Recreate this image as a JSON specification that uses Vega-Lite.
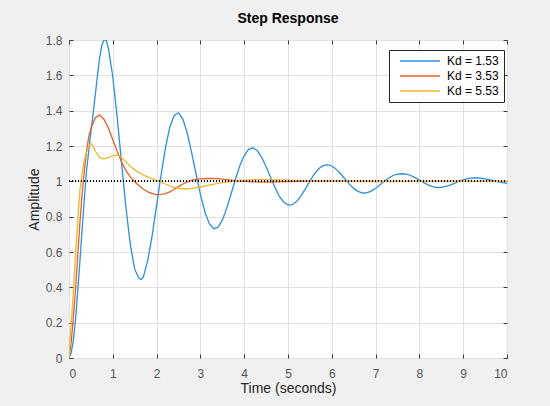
{
  "$schema": "https://vega.github.io/schema/vega-lite/v6.json",
  "width": 438,
  "height": 318,
  "autosize": {"type": "none"},
  "padding": {"left": 69, "top": 40, "right": 43, "bottom": 48},
  "background": "#f0f0f0",
  "title": {
    "text": "Step Response",
    "fontSize": 14,
    "fontWeight": "bold",
    "color": "#000000",
    "font": "Liberation Sans",
    "anchor": "middle",
    "frame": "group",
    "baseline": "alphabetic",
    "offset": -3
  },
  "config": {
    "font": "Liberation Sans",
    "view": {"fill": "#ffffff", "stroke": "#3a3a3a", "strokeWidth": 1},
    "axis": {
      "labelFont": "Liberation Sans",
      "labelFontSize": 12,
      "labelColor": "#555555",
      "titleFont": "Liberation Sans",
      "titleFontSize": 14,
      "titleFontWeight": "normal",
      "titleColor": "#262626",
      "gridColor": "#e0e0e0",
      "gridWidth": 1,
      "domain": false,
      "tickColor": "#3a3a3a",
      "tickSize": -4
    }
  },
  "data": {
    "values": [
      {"k": "Kd = 1.53", "t": 0, "y": 0},
      {"k": "Kd = 1.53", "t": 0.05, "y": 0.03},
      {"k": "Kd = 1.53", "t": 0.1, "y": 0.1},
      {"k": "Kd = 1.53", "t": 0.15, "y": 0.22},
      {"k": "Kd = 1.53", "t": 0.2, "y": 0.38},
      {"k": "Kd = 1.53", "t": 0.25, "y": 0.55},
      {"k": "Kd = 1.53", "t": 0.3, "y": 0.73},
      {"k": "Kd = 1.53", "t": 0.35, "y": 0.9},
      {"k": "Kd = 1.53", "t": 0.4, "y": 1.06},
      {"k": "Kd = 1.53", "t": 0.45, "y": 1.17},
      {"k": "Kd = 1.53", "t": 0.5, "y": 1.28},
      {"k": "Kd = 1.53", "t": 0.55, "y": 1.38},
      {"k": "Kd = 1.53", "t": 0.6, "y": 1.49},
      {"k": "Kd = 1.53", "t": 0.65, "y": 1.6},
      {"k": "Kd = 1.53", "t": 0.7, "y": 1.7},
      {"k": "Kd = 1.53", "t": 0.75, "y": 1.77},
      {"k": "Kd = 1.53", "t": 0.8, "y": 1.8},
      {"k": "Kd = 1.53", "t": 0.85, "y": 1.8},
      {"k": "Kd = 1.53", "t": 0.9, "y": 1.752},
      {"k": "Kd = 1.53", "t": 1.0, "y": 1.592},
      {"k": "Kd = 1.53", "t": 1.1, "y": 1.363},
      {"k": "Kd = 1.53", "t": 1.2, "y": 1.103},
      {"k": "Kd = 1.53", "t": 1.3, "y": 0.852},
      {"k": "Kd = 1.53", "t": 1.4, "y": 0.642},
      {"k": "Kd = 1.53", "t": 1.5, "y": 0.502},
      {"k": "Kd = 1.53", "t": 1.6, "y": 0.45},
      {"k": "Kd = 1.53", "t": 1.65, "y": 0.445},
      {"k": "Kd = 1.53", "t": 1.7, "y": 0.46},
      {"k": "Kd = 1.53", "t": 1.8, "y": 0.555},
      {"k": "Kd = 1.53", "t": 1.9, "y": 0.695},
      {"k": "Kd = 1.53", "t": 2.0, "y": 0.862},
      {"k": "Kd = 1.53", "t": 2.1, "y": 1.034},
      {"k": "Kd = 1.53", "t": 2.2, "y": 1.187},
      {"k": "Kd = 1.53", "t": 2.3, "y": 1.305},
      {"k": "Kd = 1.53", "t": 2.4, "y": 1.373},
      {"k": "Kd = 1.53", "t": 2.5, "y": 1.388},
      {"k": "Kd = 1.53", "t": 2.6, "y": 1.352},
      {"k": "Kd = 1.53", "t": 2.7, "y": 1.272},
      {"k": "Kd = 1.53", "t": 2.8, "y": 1.163},
      {"k": "Kd = 1.53", "t": 2.9, "y": 1.042},
      {"k": "Kd = 1.53", "t": 3.0, "y": 0.926},
      {"k": "Kd = 1.53", "t": 3.1, "y": 0.828},
      {"k": "Kd = 1.53", "t": 3.2, "y": 0.762},
      {"k": "Kd = 1.53", "t": 3.3, "y": 0.732},
      {"k": "Kd = 1.53", "t": 3.4, "y": 0.739},
      {"k": "Kd = 1.53", "t": 3.5, "y": 0.78},
      {"k": "Kd = 1.53", "t": 3.6, "y": 0.847},
      {"k": "Kd = 1.53", "t": 3.7, "y": 0.928},
      {"k": "Kd = 1.53", "t": 3.8, "y": 1.012},
      {"k": "Kd = 1.53", "t": 3.9, "y": 1.088},
      {"k": "Kd = 1.53", "t": 4.0, "y": 1.146},
      {"k": "Kd = 1.53", "t": 4.1, "y": 1.181},
      {"k": "Kd = 1.53", "t": 4.2, "y": 1.19},
      {"k": "Kd = 1.53", "t": 4.3, "y": 1.173},
      {"k": "Kd = 1.53", "t": 4.4, "y": 1.135},
      {"k": "Kd = 1.53", "t": 4.5, "y": 1.083},
      {"k": "Kd = 1.53", "t": 4.6, "y": 1.024},
      {"k": "Kd = 1.53", "t": 4.7, "y": 0.966},
      {"k": "Kd = 1.53", "t": 4.8, "y": 0.916},
      {"k": "Kd = 1.53", "t": 4.9, "y": 0.883},
      {"k": "Kd = 1.53", "t": 5.0, "y": 0.866},
      {"k": "Kd = 1.53", "t": 5.1, "y": 0.868},
      {"k": "Kd = 1.53", "t": 5.2, "y": 0.887},
      {"k": "Kd = 1.53", "t": 5.3, "y": 0.919},
      {"k": "Kd = 1.53", "t": 5.4, "y": 0.959},
      {"k": "Kd = 1.53", "t": 5.5, "y": 1.002},
      {"k": "Kd = 1.53", "t": 5.6, "y": 1.041},
      {"k": "Kd = 1.53", "t": 5.7, "y": 1.071},
      {"k": "Kd = 1.53", "t": 5.8, "y": 1.089},
      {"k": "Kd = 1.53", "t": 5.9, "y": 1.095},
      {"k": "Kd = 1.53", "t": 6.0, "y": 1.087},
      {"k": "Kd = 1.53", "t": 6.1, "y": 1.069},
      {"k": "Kd = 1.53", "t": 6.2, "y": 1.043},
      {"k": "Kd = 1.53", "t": 6.3, "y": 1.013},
      {"k": "Kd = 1.53", "t": 6.4, "y": 0.984},
      {"k": "Kd = 1.53", "t": 6.5, "y": 0.96},
      {"k": "Kd = 1.53", "t": 6.6, "y": 0.943},
      {"k": "Kd = 1.53", "t": 6.7, "y": 0.934},
      {"k": "Kd = 1.53", "t": 6.8, "y": 0.935},
      {"k": "Kd = 1.53", "t": 6.9, "y": 0.945},
      {"k": "Kd = 1.53", "t": 7.0, "y": 0.961},
      {"k": "Kd = 1.53", "t": 7.1, "y": 0.981},
      {"k": "Kd = 1.53", "t": 7.2, "y": 1.001},
      {"k": "Kd = 1.53", "t": 7.3, "y": 1.019},
      {"k": "Kd = 1.53", "t": 7.4, "y": 1.033},
      {"k": "Kd = 1.53", "t": 7.5, "y": 1.041},
      {"k": "Kd = 1.53", "t": 7.6, "y": 1.043},
      {"k": "Kd = 1.53", "t": 7.7, "y": 1.041},
      {"k": "Kd = 1.53", "t": 7.8, "y": 1.033},
      {"k": "Kd = 1.53", "t": 7.9, "y": 1.021},
      {"k": "Kd = 1.53", "t": 8.0, "y": 1.007},
      {"k": "Kd = 1.53", "t": 8.1, "y": 0.993},
      {"k": "Kd = 1.53", "t": 8.2, "y": 0.98},
      {"k": "Kd = 1.53", "t": 8.3, "y": 0.97},
      {"k": "Kd = 1.53", "t": 8.4, "y": 0.965},
      {"k": "Kd = 1.53", "t": 8.5, "y": 0.966},
      {"k": "Kd = 1.53", "t": 8.6, "y": 0.971},
      {"k": "Kd = 1.53", "t": 8.7, "y": 0.979},
      {"k": "Kd = 1.53", "t": 8.8, "y": 0.989},
      {"k": "Kd = 1.53", "t": 8.9, "y": 1.0},
      {"k": "Kd = 1.53", "t": 9.0, "y": 1.008},
      {"k": "Kd = 1.53", "t": 9.1, "y": 1.015},
      {"k": "Kd = 1.53", "t": 9.2, "y": 1.019},
      {"k": "Kd = 1.53", "t": 9.3, "y": 1.019},
      {"k": "Kd = 1.53", "t": 9.4, "y": 1.018},
      {"k": "Kd = 1.53", "t": 9.5, "y": 1.014},
      {"k": "Kd = 1.53", "t": 9.6, "y": 1.009},
      {"k": "Kd = 1.53", "t": 9.7, "y": 1.003},
      {"k": "Kd = 1.53", "t": 9.8, "y": 0.997},
      {"k": "Kd = 1.53", "t": 9.9, "y": 0.993},
      {"k": "Kd = 1.53", "t": 10, "y": 0.989},
      {"k": "Kd = 3.53", "t": 0, "y": 0},
      {"k": "Kd = 3.53", "t": 0.05, "y": 0.09},
      {"k": "Kd = 3.53", "t": 0.1, "y": 0.23},
      {"k": "Kd = 3.53", "t": 0.15, "y": 0.39},
      {"k": "Kd = 3.53", "t": 0.2, "y": 0.58},
      {"k": "Kd = 3.53", "t": 0.25, "y": 0.77},
      {"k": "Kd = 3.53", "t": 0.3, "y": 0.93},
      {"k": "Kd = 3.53", "t": 0.35, "y": 1.06},
      {"k": "Kd = 3.53", "t": 0.4, "y": 1.17},
      {"k": "Kd = 3.53", "t": 0.45, "y": 1.25},
      {"k": "Kd = 3.53", "t": 0.5, "y": 1.3},
      {"k": "Kd = 3.53", "t": 0.6, "y": 1.36},
      {"k": "Kd = 3.53", "t": 0.7, "y": 1.375},
      {"k": "Kd = 3.53", "t": 0.8, "y": 1.35},
      {"k": "Kd = 3.53", "t": 0.9, "y": 1.3},
      {"k": "Kd = 3.53", "t": 1.0, "y": 1.235},
      {"k": "Kd = 3.53", "t": 1.1, "y": 1.17},
      {"k": "Kd = 3.53", "t": 1.2, "y": 1.11},
      {"k": "Kd = 3.53", "t": 1.3, "y": 1.06},
      {"k": "Kd = 3.53", "t": 1.4, "y": 1.025},
      {"k": "Kd = 3.53", "t": 1.5, "y": 0.998},
      {"k": "Kd = 3.53", "t": 1.6, "y": 0.975},
      {"k": "Kd = 3.53", "t": 1.7, "y": 0.955},
      {"k": "Kd = 3.53", "t": 1.8, "y": 0.94},
      {"k": "Kd = 3.53", "t": 1.9, "y": 0.93},
      {"k": "Kd = 3.53", "t": 2.0, "y": 0.925},
      {"k": "Kd = 3.53", "t": 2.1, "y": 0.926},
      {"k": "Kd = 3.53", "t": 2.2, "y": 0.93},
      {"k": "Kd = 3.53", "t": 2.3, "y": 0.94},
      {"k": "Kd = 3.53", "t": 2.4, "y": 0.955},
      {"k": "Kd = 3.53", "t": 2.5, "y": 0.97},
      {"k": "Kd = 3.53", "t": 2.6, "y": 0.985},
      {"k": "Kd = 3.53", "t": 2.7, "y": 0.997},
      {"k": "Kd = 3.53", "t": 2.8, "y": 1.006},
      {"k": "Kd = 3.53", "t": 2.9, "y": 1.011},
      {"k": "Kd = 3.53", "t": 3.0, "y": 1.014},
      {"k": "Kd = 3.53", "t": 3.2, "y": 1.016},
      {"k": "Kd = 3.53", "t": 3.4, "y": 1.015},
      {"k": "Kd = 3.53", "t": 3.6, "y": 1.01},
      {"k": "Kd = 3.53", "t": 3.8, "y": 1.004},
      {"k": "Kd = 3.53", "t": 4.0, "y": 1.0},
      {"k": "Kd = 3.53", "t": 4.2, "y": 0.997},
      {"k": "Kd = 3.53", "t": 4.4, "y": 0.996},
      {"k": "Kd = 3.53", "t": 4.6, "y": 0.996},
      {"k": "Kd = 3.53", "t": 4.8, "y": 0.997},
      {"k": "Kd = 3.53", "t": 5.0, "y": 0.999},
      {"k": "Kd = 3.53", "t": 5.5, "y": 1.001},
      {"k": "Kd = 3.53", "t": 6.0, "y": 1.001},
      {"k": "Kd = 3.53", "t": 7.0, "y": 1.0},
      {"k": "Kd = 3.53", "t": 8.0, "y": 1.0},
      {"k": "Kd = 3.53", "t": 10, "y": 1.0},
      {"k": "Kd = 5.53", "t": 0, "y": 0},
      {"k": "Kd = 5.53", "t": 0.05, "y": 0.19},
      {"k": "Kd = 5.53", "t": 0.1, "y": 0.38},
      {"k": "Kd = 5.53", "t": 0.15, "y": 0.59},
      {"k": "Kd = 5.53", "t": 0.2, "y": 0.78},
      {"k": "Kd = 5.53", "t": 0.25, "y": 0.95},
      {"k": "Kd = 5.53", "t": 0.3, "y": 1.05},
      {"k": "Kd = 5.53", "t": 0.35, "y": 1.12},
      {"k": "Kd = 5.53", "t": 0.4, "y": 1.165},
      {"k": "Kd = 5.53", "t": 0.45, "y": 1.2},
      {"k": "Kd = 5.53", "t": 0.5, "y": 1.213},
      {"k": "Kd = 5.53", "t": 0.55, "y": 1.2},
      {"k": "Kd = 5.53", "t": 0.6, "y": 1.17},
      {"k": "Kd = 5.53", "t": 0.7, "y": 1.135},
      {"k": "Kd = 5.53", "t": 0.8, "y": 1.127},
      {"k": "Kd = 5.53", "t": 0.9, "y": 1.135},
      {"k": "Kd = 5.53", "t": 1.0, "y": 1.146},
      {"k": "Kd = 5.53", "t": 1.1, "y": 1.148},
      {"k": "Kd = 5.53", "t": 1.2, "y": 1.135},
      {"k": "Kd = 5.53", "t": 1.3, "y": 1.11},
      {"k": "Kd = 5.53", "t": 1.4, "y": 1.085},
      {"k": "Kd = 5.53", "t": 1.5, "y": 1.065},
      {"k": "Kd = 5.53", "t": 1.6, "y": 1.05},
      {"k": "Kd = 5.53", "t": 1.7, "y": 1.035},
      {"k": "Kd = 5.53", "t": 1.8, "y": 1.025},
      {"k": "Kd = 5.53", "t": 1.9, "y": 1.015},
      {"k": "Kd = 5.53", "t": 2.0, "y": 1.005},
      {"k": "Kd = 5.53", "t": 2.1, "y": 0.995},
      {"k": "Kd = 5.53", "t": 2.2, "y": 0.985},
      {"k": "Kd = 5.53", "t": 2.3, "y": 0.975},
      {"k": "Kd = 5.53", "t": 2.4, "y": 0.966},
      {"k": "Kd = 5.53", "t": 2.5, "y": 0.96},
      {"k": "Kd = 5.53", "t": 2.6, "y": 0.958},
      {"k": "Kd = 5.53", "t": 2.7, "y": 0.958},
      {"k": "Kd = 5.53", "t": 2.8, "y": 0.96},
      {"k": "Kd = 5.53", "t": 3.0, "y": 0.968},
      {"k": "Kd = 5.53", "t": 3.2, "y": 0.978},
      {"k": "Kd = 5.53", "t": 3.4, "y": 0.988},
      {"k": "Kd = 5.53", "t": 3.6, "y": 0.996},
      {"k": "Kd = 5.53", "t": 3.8, "y": 1.002},
      {"k": "Kd = 5.53", "t": 4.0, "y": 1.007},
      {"k": "Kd = 5.53", "t": 4.3, "y": 1.01},
      {"k": "Kd = 5.53", "t": 4.6, "y": 1.01},
      {"k": "Kd = 5.53", "t": 5.0, "y": 1.007},
      {"k": "Kd = 5.53", "t": 5.5, "y": 1.003},
      {"k": "Kd = 5.53", "t": 6.0, "y": 1.0},
      {"k": "Kd = 5.53", "t": 7.0, "y": 0.999},
      {"k": "Kd = 5.53", "t": 8.0, "y": 1.0},
      {"k": "Kd = 5.53", "t": 10, "y": 1.0}
    ]
  },
  "layer": [
    {
      "mark": {"type": "line", "strokeWidth": 1.3, "clip": true},
      "encoding": {
        "x": {
          "field": "t",
          "type": "quantitative",
          "scale": {"domain": [0, 10], "nice": false},
          "axis": {
            "orient": "bottom",
            "title": "Time (seconds)",
            "values": [0, 1, 2, 3, 4, 5, 6, 7, 8, 9, 10],
            "labelPadding": 14,
            "titlePadding": 2,
            "grid": true
          }
        },
        "y": {
          "field": "y",
          "type": "quantitative",
          "scale": {"domain": [0, 1.8], "nice": false},
          "axis": {
            "orient": "left",
            "title": "Amplitude",
            "values": [0, 0.2, 0.4, 0.6, 0.8, 1, 1.2, 1.4, 1.6, 1.8],
            "format": "~g",
            "labelPadding": 11,
            "titlePadding": 4,
            "grid": true
          }
        },
        "color": {
          "field": "k",
          "type": "nominal",
          "scale": {
            "domain": ["Kd = 1.53", "Kd = 3.53", "Kd = 5.53"],
            "range": ["#2f8fd8", "#e0602a", "#efb52e"]
          },
          "legend": {
            "title": null,
            "orient": "none",
            "legendX": 320,
            "legendY": 10,
            "symbolType": "M0,0H10",
            "symbolSize": 64,
            "symbolStrokeWidth": 1.5,
            "labelFontSize": 12,
            "labelColor": "#000000",
            "labelOffset": 41,
            "rowPadding": 3,
            "padding": 5,
            "fillColor": "#ffffff",
            "strokeColor": "#262626"
          }
        }
      }
    },
    {
      "mark": {"type": "rule", "color": "#000000", "strokeWidth": 0.8, "strokeDash": [1, 2]},
      "encoding": {
        "x": {
          "datum": 0,
          "type": "quantitative",
          "scale": {"domain": [0, 10], "nice": false},
          "axis": {
            "orient": "top",
            "values": [0, 1, 2, 3, 4, 5, 6, 7, 8, 9, 10],
            "labels": false,
            "title": null,
            "grid": false
          }
        },
        "x2": {"datum": 10},
        "y": {
          "datum": 1,
          "type": "quantitative",
          "scale": {"domain": [0, 1.8], "nice": false},
          "axis": {
            "orient": "right",
            "values": [0, 0.2, 0.4, 0.6, 0.8, 1, 1.2, 1.4, 1.6, 1.8],
            "labels": false,
            "title": null,
            "grid": false
          }
        }
      }
    }
  ],
  "resolve": {"axis": {"x": "independent", "y": "independent"}}
}
